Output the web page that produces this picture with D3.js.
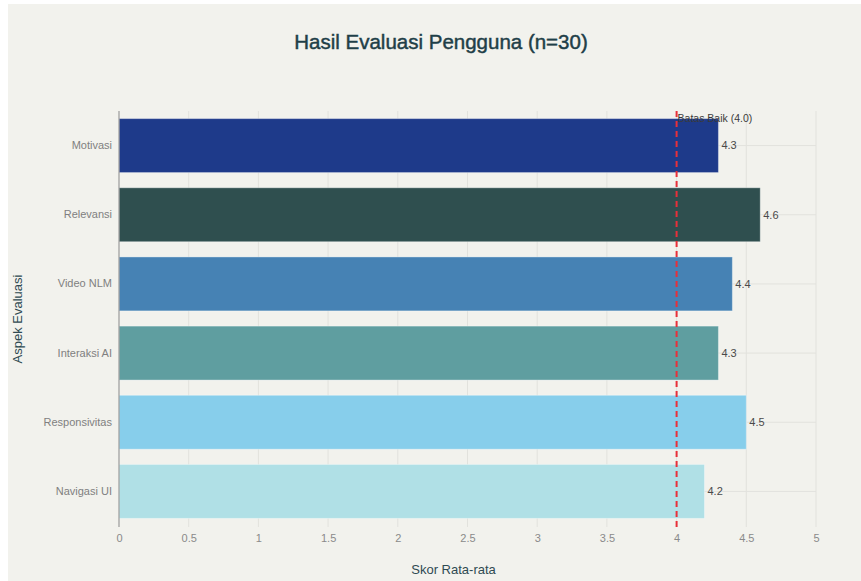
<!DOCTYPE html>
<html>
<head>
<meta charset="utf-8">
<script src="https://cdn.jsdelivr.net/npm/d3@7/dist/d3.min.js"></script>
<style>
  html, body { margin: 0; padding: 0; background: #ffffff; }
  svg { display: block; }
  text { font-family: "Liberation Sans", Arial, sans-serif; }
</style>
</head>
<body>
<svg id="chart" width="861" height="581"></svg>
<script>
const categories = ["Motivasi", "Relevansi", "Video NLM", "Interaksi AI", "Responsivitas", "Navigasi UI"];
const scores = [4.3, 4.6, 4.4, 4.3, 4.5, 4.2];
const barColors = ["#1E3A8A", "#2F4F4F", "#4682B4", "#5F9EA0", "#87CEEB", "#B0E0E6"];
const xTicks = [0, 0.5, 1, 1.5, 2, 2.5, 3, 3.5, 4, 4.5, 5];
const threshold = 4.0;
const thresholdLabel = "Batas Baik (4.0)";
const titleText = "Hasil Evaluasi Pengguna (n=30)";
const xTitle = "Skor Rata-rata";
const yTitle = "Aspek Evaluasi";

const svg = d3.select("#chart");

// panel background
svg.append("rect").attr("x", 8).attr("y", 4).attr("width", 853).attr("height", 577).attr("fill", "#f2f2ed");

const x = d3.scaleLinear().domain([0, 5]).range([119, 816]);
const y = d3.scaleBand().domain(categories).range([111, 526]).paddingInner(0.22).paddingOuter(0.11);

const gridColor = "#e2e2dd";

// vertical gridlines
svg.append("g").selectAll("line").data(xTicks.filter(d => d > 0)).join("line")
  .attr("x1", d => x(d)).attr("x2", d => x(d))
  .attr("y1", 111).attr("y2", 527)
  .attr("stroke", gridColor).attr("stroke-width", 1);

// horizontal gridlines at category centers
svg.append("g").selectAll("line").data(categories).join("line")
  .attr("x1", x(0)).attr("x2", x(5))
  .attr("y1", d => y(d) + y.bandwidth() / 2).attr("y2", d => y(d) + y.bandwidth() / 2)
  .attr("stroke", gridColor).attr("stroke-width", 1);

// bars
svg.append("g").selectAll("rect").data(categories).join("rect")
  .attr("x", x(0))
  .attr("y", d => y(d))
  .attr("width", (d, i) => x(scores[i]) - x(0))
  .attr("height", y.bandwidth())
  .attr("fill", (d, i) => barColors[i])
  .attr("stroke", "rgba(255,255,255,0.35)")
  .attr("stroke-width", 1);

// y axis line
svg.append("line").attr("x1", x(0)).attr("x2", x(0)).attr("y1", 111).attr("y2", 527)
  .attr("stroke", "#9a9a9a").attr("stroke-width", 1.2);

// x axis tick labels
const xAxis = d3.axisBottom(x).tickValues(xTicks).tickSize(0).tickPadding(0)
  .tickFormat(d => d3.format("~g")(d));
const gx = svg.append("g").attr("transform", "translate(0,534)").call(xAxis);
gx.select(".domain").remove();
gx.selectAll("text").attr("fill", "#8a8a8a").attr("font-size", 11)
  .attr("font-family", "Liberation Sans, Arial, sans-serif").attr("dy", "0.71em");

// y axis labels
const yAxis = d3.axisLeft(y).tickSize(0).tickPadding(7);
const gy = svg.append("g").attr("transform", `translate(${x(0)},0)`).call(yAxis);
gy.select(".domain").remove();
gy.selectAll("text").attr("fill", "#808080").attr("font-size", 11)
  .attr("font-family", "Liberation Sans, Arial, sans-serif");

// value labels
svg.append("g").selectAll("text").data(categories).join("text")
  .attr("x", (d, i) => x(scores[i]) + 3)
  .attr("y", d => y(d) + y.bandwidth() / 2)
  .attr("dy", "0.35em")
  .attr("font-size", 11)
  .attr("fill", "#4a4a4a")
  .text((d, i) => d3.format(".1f")(scores[i]));

// threshold line
svg.append("line")
  .attr("x1", x(threshold)).attr("x2", x(threshold))
  .attr("y1", 111).attr("y2", 527)
  .attr("stroke", "#e8303a").attr("stroke-width", 2)
  .attr("stroke-dasharray", "6,4");

svg.append("text")
  .attr("x", x(threshold) + 1).attr("y", 122)
  .attr("font-size", 10.5).attr("fill", "#3a3a3a")
  .text(thresholdLabel);

// title
svg.append("text")
  .attr("x", 441).attr("y", 49)
  .attr("text-anchor", "middle")
  .attr("font-size", 20.5)
  .attr("fill", "#1f3f48")
  .attr("stroke", "#1f3f48")
  .attr("stroke-width", 0.45)
  .text(titleText);

// x title
svg.append("text")
  .attr("x", x(2.4)).attr("y", 574)
  .attr("text-anchor", "middle")
  .attr("font-size", 13)
  .attr("fill", "#2f4a52")
  .text(xTitle);

// y title
svg.append("text")
  .attr("transform", `translate(22,${(111 + 527) / 2}) rotate(-90)`)
  .attr("text-anchor", "middle")
  .attr("font-size", 13)
  .attr("fill", "#2f4a52")
  .text(yTitle);
</script>
</body>
</html>
